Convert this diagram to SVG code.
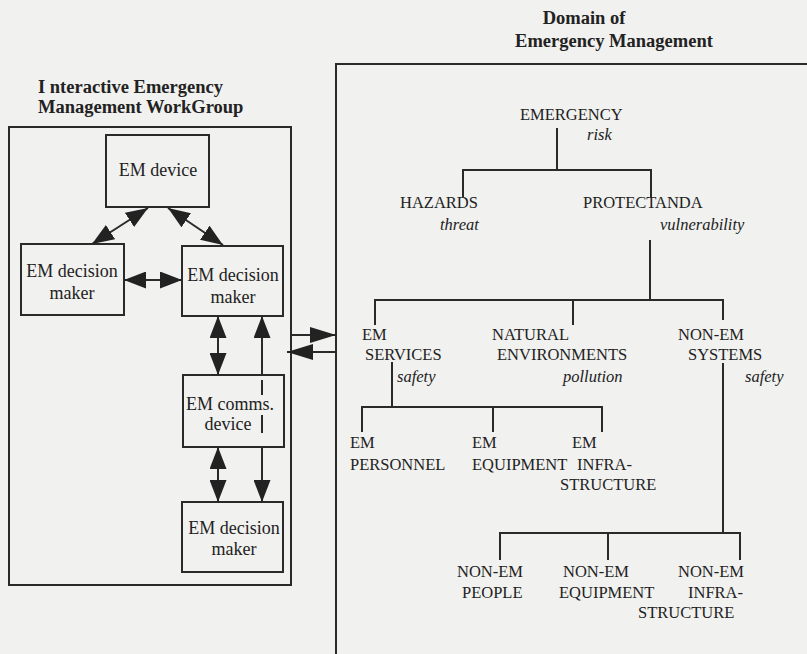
<svg xmlns="http://www.w3.org/2000/svg" width="807" height="654" viewBox="0 0 807 654">
<defs>
<style>
.bg{fill:#f1f1ef}
.box{fill:none;stroke:#2a2a2a;stroke-width:2}
.ln{fill:none;stroke:#2a2a2a;stroke-width:2}
.t{font-family:"Liberation Serif","Times New Roman",serif;font-size:18px;fill:#222}
.tt{font-family:"Liberation Serif","Times New Roman",serif;font-size:16.5px;fill:#222}
.it{font-family:"Liberation Serif","Times New Roman",serif;font-size:16.5px;font-style:italic;fill:#222}
.ti{font-family:"Liberation Serif","Times New Roman",serif;font-size:18.5px;font-weight:bold;fill:#222}
.m{text-anchor:middle}
</style>
<marker id="ah" viewBox="0 0 22 17" refX="22" refY="8.5" markerWidth="22" markerHeight="17" markerUnits="userSpaceOnUse" orient="auto-start-reverse">
<path d="M0,0 L22,8.5 L0,17 z" fill="#222"/>
</marker>
<marker id="ahl" viewBox="0 0 26 16" refX="26" refY="8" markerWidth="26" markerHeight="16" markerUnits="userSpaceOnUse" orient="auto-start-reverse">
<path d="M0,0 L26,8 L0,16 z" fill="#222"/>
</marker>
</defs>
<rect class="bg" x="0" y="0" width="807" height="654"/>

<g id="titles">
<text class="ti" x="38" y="93">I nteractive Emergency</text>
<text class="ti" x="38" y="113">Management WorkGroup</text>
<text class="ti m" x="584" y="24">Domain of</text>
<text class="ti m" x="614" y="47">Emergency Management</text>
</g>

<g id="workgroup">
<rect class="box" x="9" y="127" width="282" height="458"/>
</g>
<g id="domain">
<rect class="box" x="336" y="64" width="520" height="640"/>
</g>

<g id="em-device">
<rect class="box" x="106" y="135" width="103" height="72"/>
<text class="t m" x="158" y="176">EM device</text>
</g>
<g id="dm-left">
<rect class="box" x="21" y="244" width="103" height="71"/>
<text class="t m" x="72" y="277">EM decision</text>
<text class="t m" x="72" y="299">maker</text>
</g>
<g id="dm-right">
<rect class="box" x="182" y="246" width="101" height="70"/>
<text class="t m" x="233" y="281">EM decision</text>
<text class="t m" x="233" y="303">maker</text>
</g>
<g id="comms">
<rect class="box" x="183" y="375" width="101" height="72"/>
<text class="t m" x="230" y="410">EM comms.</text>
<text class="t m" x="228" y="430">device</text>
</g>
<g id="dm-bottom">
<rect class="box" x="182" y="502" width="101" height="70"/>
<text class="t m" x="234" y="534">EM decision</text>
<text class="t m" x="234" y="555">maker</text>
</g>

<g id="tree-text">
<text class="tt" x="520" y="120">EMERGENCY</text>
<text class="it" x="587" y="140">risk</text>
<text class="tt" x="400" y="208">HAZARDS</text>
<text class="it" x="440" y="230">threat</text>
<text class="tt" x="583" y="208">PROTECTANDA</text>
<text class="it" x="660" y="230">vulnerability</text>
<text class="tt" x="362" y="340">EM</text>
<text class="tt" x="365" y="360">SERVICES</text>
<text class="it" x="397" y="382">safety</text>
<text class="tt" x="492" y="340">NATURAL</text>
<text class="tt" x="497" y="360">ENVIRONMENTS</text>
<text class="it" x="563" y="382">pollution</text>
<text class="tt" x="678" y="340">NON-EM</text>
<text class="tt" x="688" y="360">SYSTEMS</text>
<text class="it" x="745" y="382">safety</text>
<text class="tt" x="350" y="448">EM</text>
<text class="tt" x="350" y="470">PERSONNEL</text>
<text class="tt" x="472" y="448">EM</text>
<text class="tt" x="472" y="470">EQUIPMENT</text>
<text class="tt" x="572" y="448">EM</text>
<text class="tt" x="577" y="470">INFRA-</text>
<text class="tt" x="560" y="490">STRUCTURE</text>
<text class="tt" x="457" y="577">NON-EM</text>
<text class="tt" x="462" y="598">PEOPLE</text>
<text class="tt" x="563" y="577">NON-EM</text>
<text class="tt" x="559" y="598">EQUIPMENT</text>
<text class="tt" x="678" y="577">NON-EM</text>
<text class="tt" x="688" y="598">INFRA-</text>
<text class="tt" x="638" y="618">STRUCTURE</text>
</g>

<g id="connectors">
<line class="ln" x1="148" y1="208" x2="92" y2="244" marker-start="url(#ah)" marker-end="url(#ah)"/>
<line class="ln" x1="168" y1="208" x2="223" y2="245" marker-start="url(#ah)" marker-end="url(#ah)"/>
<line class="ln" x1="124" y1="280" x2="182" y2="280" marker-start="url(#ah)" marker-end="url(#ah)"/>
<line class="ln" x1="218" y1="316" x2="218" y2="375" marker-start="url(#ah)" marker-end="url(#ah)"/>
<line class="ln" x1="218" y1="447" x2="218" y2="502" marker-start="url(#ah)" marker-end="url(#ah)"/>
<line class="ln" x1="262" y1="375" x2="262" y2="316" marker-end="url(#ah)"/>
<line class="ln" x1="262" y1="380" x2="262" y2="395"/>
<line class="ln" x1="262" y1="415" x2="262" y2="433"/>
<line class="ln" x1="262" y1="447" x2="262" y2="502" marker-end="url(#ah)"/>
<line class="ln" x1="291" y1="335" x2="336" y2="335" marker-end="url(#ahl)"/>
<line class="ln" x1="336" y1="352" x2="287" y2="352" marker-end="url(#ahl)"/>
<path class="ln" d="M557,128 V170 M463,197 V170 H651 V197"/>
<path class="ln" d="M650,240 V300 M375,325 V300 H723 V320 M573,300 V325"/>
<path class="ln" d="M392,362 V407 M362,432 V407 H602 V432 M493,407 V432"/>
<path class="ln" d="M723,363 V533 M500,560 V533 H740 V560 M608,533 V560"/>
</g>
</svg>
